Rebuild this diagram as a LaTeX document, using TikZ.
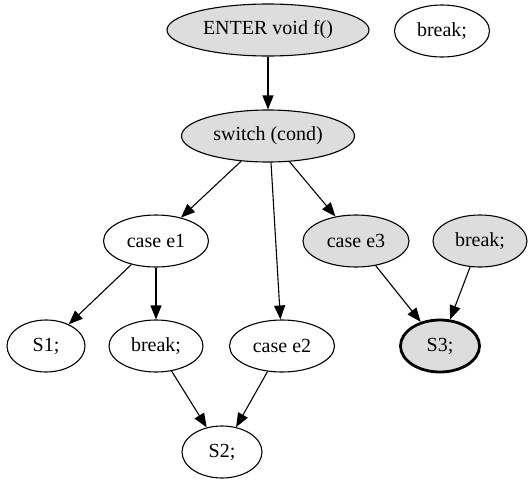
\documentclass[tikz,border=0pt]{standalone}
\usepackage{fontspec}
\setmainfont{Liberation Serif}
\usetikzlibrary{shapes.geometric,arrows.meta}
\definecolor{nodegray}{RGB}{221,221,221}
\begin{document}
\begin{tikzpicture}[x=1pt,y=-1pt,
  blk/.style={ellipse,draw,line width=1.1pt,inner sep=0pt,minimum height=52pt,
    font=\fontsize{20}{23}\selectfont},
  shaded/.style={blk,fill=nodegray},
  edge/.style={line width=1.1pt,-{Triangle[length=14pt,width=11pt]}}]
\useasboundingbox (0,0) rectangle (531,480);
% top row
\node[shaded,minimum width=202pt] (enter) at (268,30) {ENTER void f()};
\node[blk,minimum width=95pt] (brk0) at (442,31) {break;};
% switch
\node[shaded,minimum width=173pt] (sw) at (268,136) {switch (cond)};
% cases
\node[blk,minimum width=105pt] (c1) at (156,241) {case e1};
\node[shaded,minimum width=106pt] (c3) at (356,241) {case e3};
\node[shaded,minimum width=94pt] (brk3) at (480,241) {break;};
% statements
\node[blk,minimum width=78pt] (s1) at (46,346) {S1;};
\node[blk,minimum width=94pt] (brk1) at (156,346) {break;};
\node[blk,minimum width=105pt] (c2) at (282,346) {case e2};
\node[shaded,minimum width=79pt,line width=2.8pt] (s3) at (440,346) {S3;};
\node[blk,minimum width=80pt] (s2) at (222,452) {S2;};
% edges
\draw[edge] (enter) -- (sw);
\draw[edge] (sw) -- (c1);
\draw[edge] (sw.south) ++(3,0) -- (c2);
\draw[edge] (sw) -- (c3);
\draw[edge] (c1) -- (s1);
\draw[edge] (c1) -- (brk1);
\draw[edge] (brk1) -- (s2);
\draw[edge] (c2) -- (s2);
\draw[edge] (c3) -- (s3);
\draw[edge] (brk3) -- (s3);
\end{tikzpicture}
\end{document}
